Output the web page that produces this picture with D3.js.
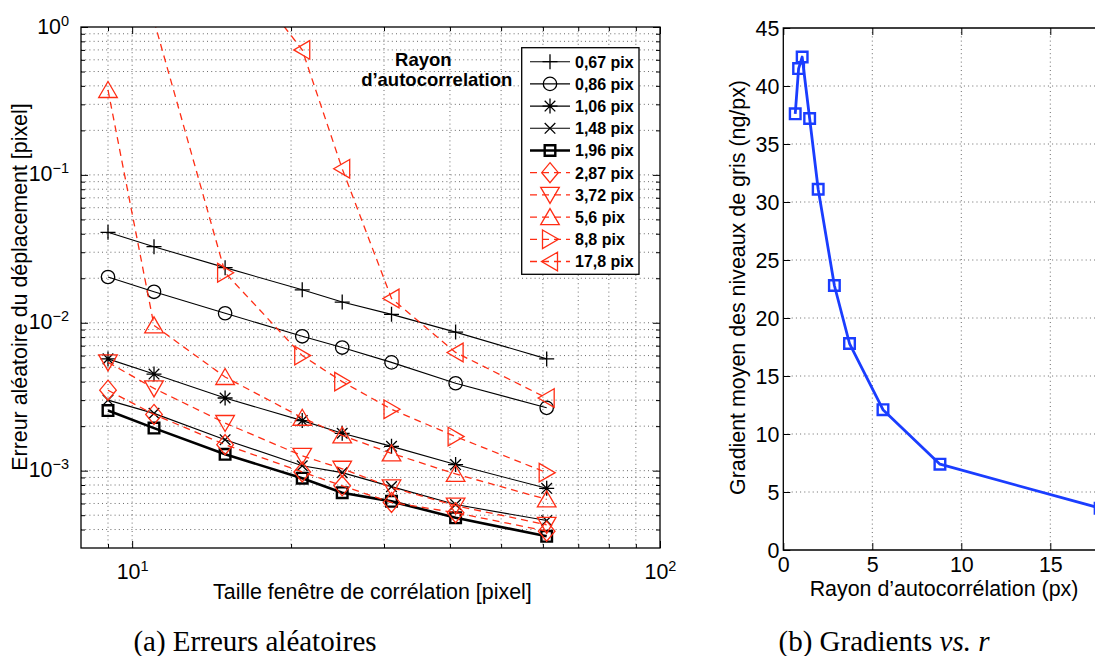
<!DOCTYPE html>
<html><head><meta charset="utf-8">
<script src="https://cdn.jsdelivr.net/npm/d3@7"></script>
<style>
body{margin:0;background:#fff;}
svg{display:block;font-family:"Liberation Sans",Arial,Helvetica,sans-serif;}
</style></head><body>
<svg id="chart" width="1095" height="656"></svg>
<script>
// ---------- DATA (panel a) ----------
const windowSizes = [9, 11, 15, 21, 25, 31, 41, 61];
const err067  = [0.0409, 0.0327, 0.0236, 0.0167, 0.0138, 0.0114, 0.00865, 0.0057];
const err086  = [0.0204, 0.0162, 0.0116, 0.0081, 0.0068, 0.0054, 0.0039, 0.00266];
const err106  = [0.0057, 0.0045, 0.0031, 0.00218, 0.00179, 0.00146, 0.0011, 0.00076];
const err148  = [0.0030, 0.00244, 0.00162, 0.00108, 0.00097, 0.00078, 0.00059, 0.00046];
const err196  = [0.00255, 0.00194, 0.00129, 0.00089, 0.00071, 0.00062, 0.00048, 0.00036];
const err287  = [0.0035, 0.0024, 0.0015, 0.00098, 0.00079, 0.00061, 0.00052, 0.00039];
const err372  = [0.0054, 0.0036, 0.0021, 0.00126, 0.00103, 0.00077, 0.00058, 0.00043];
const err560  = [0.375, 0.0096, 0.0043, 0.00228, 0.00173, 0.00131, 0.00095, 0.00064];
const err880  = [null, 1.1, 0.0218, 0.0060, 0.0040, 0.0026, 0.0017, 0.00097];
const err1780 = [null, null, 3.3, 0.70, 0.110, 0.0146, 0.0063, 0.0031];
const seriesLabels = ["0,67 pix","0,86 pix","1,06 pix","1,48 pix","1,96 pix","2,87 pix","3,72 pix","5,6 pix","8,8 pix","17,8 pix"];
const legendTitle = ["Rayon", "d\u2019autocorrelation"];
const xTicksA = [10, 100];
const yTicksA = [1e-3, 1e-2, 1e-1, 1];
// ---------- DATA (panel b) ----------
const radii = [0.67, 0.86, 1.06, 1.48, 1.96, 2.87, 3.72, 5.6, 8.8, 17.8];
const gradients = [37.6, 41.5, 42.5, 37.2, 31.1, 22.8, 17.8, 12.1, 7.4, 3.6];
const xTicksB = [0, 5, 10, 15];
const yTicksB = [0, 5, 10, 15, 20, 25, 30, 35, 40, 45];

const allSeries = [err067, err086, err106, err148, err196, err287, err372, err560, err880, err1780];

// ---------- STYLES ----------
const RED = "#ff2d14", BLUE = "#1a3dff";
const styles = [
  {m:"plus", c:"#000", w:1.1, dash:null},
  {m:"circle", c:"#000", w:1.1, dash:null},
  {m:"star", c:"#000", w:1.1, dash:null},
  {m:"x", c:"#000", w:1.1, dash:null},
  {m:"square", c:"#000", w:2.6, dash:null},
  {m:"diamond", c:RED, w:1.3, dash:"7,5"},
  {m:"tdown", c:RED, w:1.3, dash:"7,5"},
  {m:"tup", c:RED, w:1.3, dash:"7,5"},
  {m:"tright", c:RED, w:1.3, dash:"7,5"},
  {m:"tleft", c:RED, w:1.3, dash:"7,5"}
];
const markerPath = {
  plus:"M-7.5,0H7.5M0,-7.5V7.5",
  circle:"M6.7,0A6.7,6.7 0 1,1 -6.7,0A6.7,6.7 0 1,1 6.7,0Z",
  star:"M-7.5,0H7.5M0,-7.5V7.5M-5.3,-5.3L5.3,5.3M-5.3,5.3L5.3,-5.3",
  x:"M-5.3,-5.3L5.3,5.3M-5.3,5.3L5.3,-5.3",
  square:"M-5.3,-5.3H5.3V5.3H-5.3Z",
  diamond:"M0,-10L8.3,0L0,10L-8.3,0Z",
  tdown:"M-9.3,-7.5H9.3L0,8.5Z",
  tup:"M0,-8.5L9.3,7.5H-9.3Z",
  tright:"M-7.5,-9.3L8.5,0L-7.5,9.3Z",
  tleft:"M7.5,-9.3L-8.5,0L7.5,9.3Z"
};

const svg = d3.select("#chart");
const FS = 21.4;
const gridStyle = sel => sel.attr("stroke","#444").attr("stroke-width",0.8).attr("stroke-dasharray","1,3.2");

// ================= PANEL A =================
const A = {l:81, r:660, t:27, b:548};
const xA = d3.scaleLog().domain([8,100]).range([A.l,A.r]);
const yA = d3.scaleLog().domain([3e-4,1]).range([A.b,A.t]);
const gA = svg.append("g");

const xMinorA = [], yMinorA = [];
for (let e=0;e<2;e++) for (let k=2;k<=9;k++){const v=k*Math.pow(10,e); if(v>8 && v<100) xMinorA.push(v);}
for (let e=-4;e<0;e++) for (let k=2;k<=9;k++){const v=+(k*Math.pow(10,e)).toPrecision(3); if(v>3e-4*1.001 && v<1) yMinorA.push(v);}

// grid
const gridA = gA.append("g");
gridA.selectAll("line.gx").data(xMinorA.concat([10])).join("line")
  .attr("x1",d=>xA(d)).attr("x2",d=>xA(d)).attr("y1",A.t).attr("y2",A.b).call(gridStyle);
gridA.selectAll("line.gy").data(yMinorA.concat([1e-3,1e-2,1e-1])).join("line")
  .attr("y1",d=>yA(d)).attr("y2",d=>yA(d)).attr("x1",A.l).attr("x2",A.r).call(gridStyle);

// axes ticks (inward)
function supLabel(g, base, exp, anchor, dx, y){
  const t = g.append("text").attr("text-anchor",anchor).attr("x",dx).attr("y",y)
    .attr("font-size",FS).attr("fill","#000");
  t.append("tspan").text(base);
  t.append("tspan").attr("dy",-8).attr("font-size",14.5).text(exp);
  return t;
}
const expStr = v => { const e=Math.round(Math.log10(v)); return e<0 ? "\u2212"+(-e) : String(e); };

const axL = gA.append("g").attr("transform",`translate(${A.l},0)`)
  .call(d3.axisLeft(yA).tickValues(yTicksA).tickSizeInner(-7).tickSizeOuter(0).tickFormat(""));
axL.selectAll(".tick").each(function(d){ supLabel(d3.select(this), "10", expStr(d), "end", -12, 6); });
gA.append("g").attr("transform",`translate(${A.l},0)`)
  .call(d3.axisLeft(yA).tickValues(yMinorA).tickSizeInner(-4).tickSizeOuter(0).tickFormat(""));
gA.append("g").attr("transform",`translate(${A.r},0)`)
  .call(d3.axisRight(yA).tickValues(yTicksA).tickSizeInner(-7).tickSizeOuter(0).tickFormat(""));
gA.append("g").attr("transform",`translate(${A.r},0)`)
  .call(d3.axisRight(yA).tickValues(yMinorA).tickSizeInner(-4).tickSizeOuter(0).tickFormat(""));
const axB = gA.append("g").attr("transform",`translate(0,${A.b})`)
  .call(d3.axisBottom(xA).tickValues(xTicksA).tickSizeInner(-7).tickSizeOuter(0).tickFormat(""));
axB.selectAll(".tick").each(function(d){ supLabel(d3.select(this), "10", expStr(d), "middle", 0, 30.5); });
gA.append("g").attr("transform",`translate(0,${A.b})`)
  .call(d3.axisBottom(xA).tickValues(xMinorA).tickSizeInner(-4).tickSizeOuter(0).tickFormat(""));
gA.append("g").attr("transform",`translate(0,${A.t})`)
  .call(d3.axisTop(xA).tickValues(xTicksA).tickSizeInner(-7).tickSizeOuter(0).tickFormat(""));
gA.append("g").attr("transform",`translate(0,${A.t})`)
  .call(d3.axisTop(xA).tickValues(xMinorA).tickSizeInner(-4).tickSizeOuter(0).tickFormat(""));
gA.selectAll(".domain").remove();
gA.selectAll(".tick line").attr("stroke","#000").attr("stroke-width",1);

// data
svg.append("clipPath").attr("id","clipA").append("rect")
  .attr("x",A.l).attr("y",A.t).attr("width",A.r-A.l).attr("height",A.b-A.t);
const dataA = gA.append("g").attr("clip-path","url(#clipA)");
const lineA = d3.line().defined(d=>d.v!=null).x(d=>xA(d.x)).y(d=>yA(d.v));
allSeries.forEach((vals,i)=>{
  const st = styles[i];
  const pts = windowSizes.map((x,j)=>({x, v: vals[j]}));
  const g = dataA.append("g");
  g.append("path").datum(pts).attr("d",lineA).attr("fill","none")
    .attr("stroke",st.c).attr("stroke-width",st.w).attr("stroke-dasharray",st.dash);
  g.selectAll("path.mk").data(pts.filter(d=>d.v!=null && d.v<=1 && d.v>=3e-4)).join("path")
    .attr("class","mk").attr("d",markerPath[st.m])
    .attr("transform",d=>`translate(${xA(d.x)},${yA(d.v)})`)
    .attr("fill","none").attr("stroke",st.c).attr("stroke-width",st.m==="square"?2.4:1.3);
});

// frame
gA.append("rect").attr("x",A.l).attr("y",A.t).attr("width",A.r-A.l).attr("height",A.b-A.t)
  .attr("fill","none").attr("stroke","#000").attr("stroke-width",1.3);

// legend
const L = {x:521.7, y:47.7, w:117.3, h:226.6, row0:61.7, dy:22.2};
const leg = gA.append("g");
leg.append("rect").attr("x",L.x).attr("y",L.y).attr("width",L.w).attr("height",L.h)
  .attr("fill","#fff").attr("stroke","#000").attr("stroke-width",1.3);
seriesLabels.forEach((lab,i)=>{
  const st = styles[i], y = L.row0 + i*L.dy;
  leg.append("line").attr("x1",530).attr("x2",570).attr("y1",y).attr("y2",y)
    .attr("stroke",st.c).attr("stroke-width",st.w).attr("stroke-dasharray",st.dash);
  leg.append("path").attr("d",markerPath[st.m]).attr("transform",`translate(550,${y})`)
    .attr("fill","none").attr("stroke",st.c).attr("stroke-width",st.m==="square"?2.4:1.3);
  leg.append("text").attr("x",575).attr("y",y+5.8).attr("font-size",16).attr("font-weight","bold").text(lab);
});
gA.append("text").attr("x",423.3).attr("y",66).attr("text-anchor","middle")
  .attr("font-size",18.5).attr("font-weight","bold").text(legendTitle[0]);
gA.append("text").attr("x",436.7).attr("y",86).attr("text-anchor","middle")
  .attr("font-size",18.5).attr("font-weight","bold").text(legendTitle[1]);

// axis labels
gA.append("text").attr("transform","rotate(-90)").attr("x",-287).attr("y",27)
  .attr("text-anchor","middle").attr("font-size",FS).text("Erreur al\u00e9atoire du d\u00e9placement [pixel]");
gA.append("text").attr("x",372.4).attr("y",599).attr("text-anchor","middle")
  .attr("font-size",FS).text("Taille fen\u00eatre de corr\u00e9lation [pixel]");

// ================= PANEL B =================
const B = {l:783.3, t:28, b:550};
const xB = d3.scaleLinear().domain([0,20]).range([B.l, B.l+356]);
const yB = d3.scaleLinear().domain([0,45]).range([B.b, B.t]);
const gB = svg.append("g");
gB.selectAll("line.gx").data(xTicksB.filter(d=>d>0)).join("line")
  .attr("x1",d=>xB(d)).attr("x2",d=>xB(d)).attr("y1",B.t).attr("y2",B.b).call(gridStyle);
gB.selectAll("line.gy").data(yTicksB.filter(d=>d>0 && d<45)).join("line")
  .attr("y1",d=>yB(d)).attr("y2",d=>yB(d)).attr("x1",B.l).attr("x2",xB(20)).call(gridStyle);

const bL = gB.append("g").attr("transform",`translate(${B.l},0)`)
  .call(d3.axisLeft(yB).tickValues(yTicksB).tickSizeInner(-7).tickSizeOuter(0).tickPadding(4));
const bB = gB.append("g").attr("transform",`translate(0,${B.b})`)
  .call(d3.axisBottom(xB).tickValues(xTicksB).tickSizeInner(-7).tickSizeOuter(0).tickPadding(7));
gB.append("g").attr("transform",`translate(0,${B.t})`)
  .call(d3.axisTop(xB).tickValues(xTicksB).tickSizeInner(-7).tickSizeOuter(0).tickFormat(""));
gB.selectAll(".domain").remove();
gB.selectAll(".tick line").attr("stroke","#000").attr("stroke-width",1);
gB.selectAll(".tick text").attr("font-size",FS).attr("font-family","'Liberation Sans',Arial,sans-serif").attr("fill","#000");
bL.selectAll(".tick text").attr("dy","0.36em");
bB.selectAll(".tick text").attr("dy","0.72em");

const lineB = d3.line().x((d,i)=>xB(radii[i])).y(d=>yB(d));
gB.append("path").datum(gradients).attr("d",lineB).attr("fill","none")
  .attr("stroke",BLUE).attr("stroke-width",2.8).attr("stroke-linejoin","round");
gB.selectAll("path.mk").data(gradients).join("path").attr("class","mk")
  .attr("d",markerPath.square).attr("transform",(d,i)=>`translate(${xB(radii[i])},${yB(d)})`)
  .attr("fill","none").attr("stroke",BLUE).attr("stroke-width",2.4);

gB.append("path").attr("d",`M${xB(20)},${B.t}H${B.l}V${B.b}H${xB(20)}V${B.t}`)
  .attr("fill","none").attr("stroke","#000").attr("stroke-width",1.3);

gB.append("text").attr("transform","rotate(-90)").attr("x",-287.5).attr("y",745)
  .attr("text-anchor","middle").attr("font-size",FS).text("Gradient moyen des niveaux de gris (ng/px)");
gB.append("text").attr("x",944).attr("y",596).attr("text-anchor","middle")
  .attr("font-size",FS).text("Rayon d\u2019autocorr\u00e9lation (px)");

// ================= CAPTIONS =================
const capFont = "'Liberation Serif','Times New Roman',serif";
svg.append("text").attr("x",255).attr("y",651).attr("text-anchor","middle")
  .attr("font-family",capFont).attr("font-size",29).text("(a) Erreurs al\u00e9atoires");
const capB = svg.append("text").attr("x",884).attr("y",651).attr("text-anchor","middle")
  .attr("font-family",capFont).attr("font-size",29);
capB.append("tspan").text("(b) Gradients ");
capB.append("tspan").attr("font-style","italic").text("vs.");
capB.append("tspan").text(" ");
capB.append("tspan").attr("font-style","italic").text("r");
</script>
</body></html>
